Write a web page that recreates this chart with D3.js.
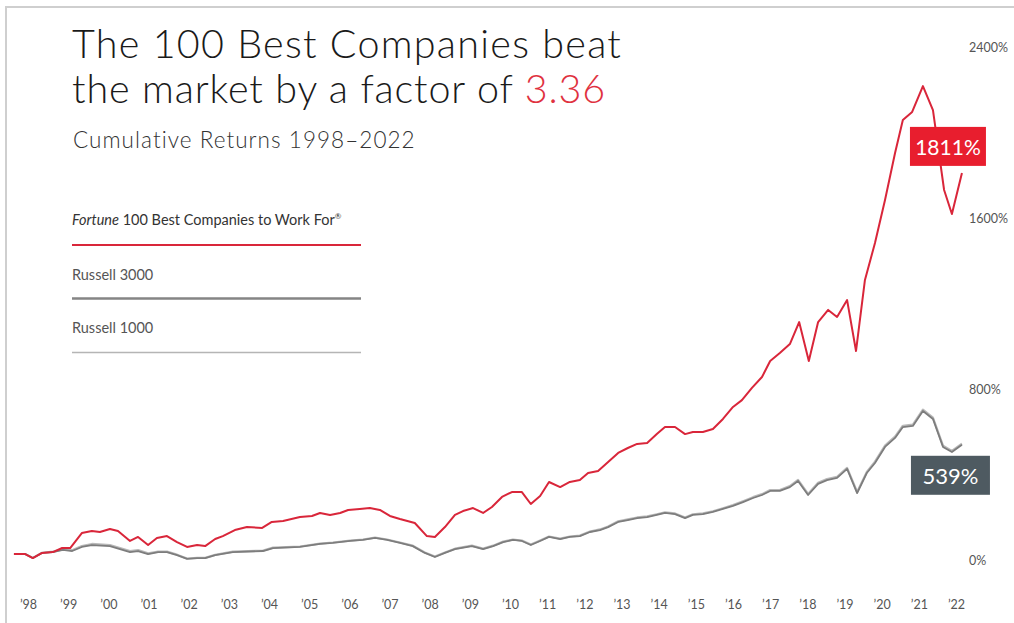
<!DOCTYPE html>
<html><head><meta charset="utf-8">
<script src="https://cdn.jsdelivr.net/npm/d3@7"></script>
<style>
body{margin:0;background:#fff;}
svg{display:block;font-family:Lato,'Open Sans',sans-serif;}
</style>
</head><body>
<svg id="chart" width="1014" height="623"></svg>
<script>
// ---- data ----
const bestYears = [1997.65,1997.93,1998.12,1998.35,1998.62,1998.85,1999.05,1999.34,1999.59,1999.79,
  2000.04,2000.24,2000.54,2000.74,2000.99,2001.21,2001.46,2001.71,2001.96,2002.21,
  2002.41,2002.66,2002.85,2003.15,2003.45,2003.83,2004.07,2004.35,2004.77,2005.07,
  2005.27,2005.52,2005.77,2005.97,2006.26,2006.51,2006.76,2007.01,2007.26,2007.63,
  2007.93,2008.13,2008.38,2008.63,2008.83,2009.08,2009.33,2009.55,2009.80,2010.05,
  2010.32,2010.56,2010.81,2011.05,2011.35,2011.61,2011.88,2012.10,2012.37,2012.64,
  2012.91,2013.17,2013.42,2013.69,2013.95,2014.17,2014.44,2014.71,2014.92,2015.19,
  2015.46,2015.73,2016.00,2016.24,2016.51,2016.78,2017.00,2017.26,2017.53,2017.78,
  2018.04,2018.29,2018.56,2018.80,2019.07,2019.31,2019.55,2019.82,2020.09,2020.36,
  2020.57,2020.82,2021.11,2021.38,2021.68,2021.89,2022.16];
const bestValues = [28,28,9,33,37,56,56,126,136,131,
  145,136,89,108,70,103,112,84,61,70,
  65,98,112,140,154,150,178,182,201,206,
  220,211,220,234,239,243,234,206,192,173,
  112,108,154,211,229,243,220,248,295,318,
  318,262,299,365,341,365,374,407,416,458,
  501,524,543,547,589,622,622,589,599,599,
  613,660,716,748,805,856,931,968,1010,1113,
  931,1113,1170,1137,1216,978,1310,1483,1684,1904,
  2058,2096,2217,2105,1731,1619,1811];

const russellYears = [1997.65,1997.93,1998.12,1998.35,1998.62,1998.87,1999.10,1999.34,1999.59,2000.04,
  2000.54,2000.74,2000.99,2001.24,2001.46,2001.71,2001.96,2002.21,2002.41,2002.66,
  2003.10,2003.85,2004.10,2004.77,2005.27,2005.59,2006.02,2006.34,2006.64,2006.94,
  2007.26,2007.58,2007.88,2008.13,2008.38,2008.63,2009.05,2009.33,2009.58,2009.83,
  2010.08,2010.32,2010.56,2010.81,2011.05,2011.35,2011.61,2011.88,2012.15,2012.42,
  2012.64,2012.91,2013.17,2013.42,2013.69,2013.95,2014.17,2014.44,2014.71,2014.92,
  2015.19,2015.46,2015.73,2016.00,2016.27,2016.54,2016.78,2017.00,2017.26,2017.53,
  2017.75,2018.02,2018.29,2018.53,2018.80,2019.07,2019.34,2019.60,2019.82,2020.09,
  2020.36,2020.57,2020.84,2021.11,2021.38,2021.65,2021.89,2022.16];
const r3000Values = [28,28,9,33,37,47,42,61,70,65,
  37,42,28,37,37,23,5,9,9,23,
  37,42,56,61,75,80,89,94,103,94,
  80,65,33,14,33,51,65,51,65,84,
  94,89,70,89,108,98,108,112,131,140,
  154,178,187,196,201,211,220,215,196,211,
  215,225,239,253,271,290,304,323,323,341,
  370,304,356,374,384,426,313,407,454,529,
  571,622,627,697,660,529,505,539];
const r1000Values = [28,28,10,34,39,50,46,65,75,70,
  42,46,31,39,39,25,7,10,10,24,
  39,44,58,63,77,82,91,96,105,96,
  82,67,35,16,35,53,67,53,67,86,
  96,91,72,91,110,100,110,114,133,143,
  157,181,190,199,204,214,223,218,199,214,
  218,228,242,257,275,294,308,327,327,346,
  375,309,361,379,389,431,318,412,460,535,
  577,628,633,703,666,535,510,544];

const yearTicks = [1998,1999,2000,2001,2002,2003,2004,2005,2006,2007,2008,2009,2010,
  2011,2012,2013,2014,2015,2016,2017,2018,2019,2020,2021,2022];
const yearLabels = ["’98","’99","’00","’01","’02","’03","’04","’05","’06","’07","’08","’09","’10",
  "’11","’12","’13","’14","’15","’16","’17","’18","’19","’20","’21","’22"];
const valueTicks = [0,800,1600,2400];
const valueLabels = ["0%","800%","1600%","2400%"];
const seriesNames = ["Fortune","Russell 3000","Russell 1000"];
const calloutValues = [1811, 539];

// ---- drawing ----
const svg = d3.select("#chart");
const RED = "#d9263a", DARK = "#7d7d7d", LIGHT = "#b9b9b9";

// frame
svg.append("path").attr("d","M6,623V7H1014").attr("fill","none").attr("stroke","#cfcfcf").attr("stroke-width",2);

const x = d3.scaleLinear().domain([1998, 2010, 2022]).range([28, 510, 956]);
const y = d3.scaleLinear().domain([0, 2400]).range([560, 47]);

// y axis labels
const yAxis = svg.append("g").attr("transform","translate(966,0)")
  .call(d3.axisRight(y).tickValues(valueTicks).tickSize(0).tickPadding(3)
    .tickFormat((d,i)=>valueLabels[i]));
yAxis.select(".domain").remove();
yAxis.selectAll("text").attr("font-size",12.5).attr("fill","#555").attr("font-family","Lato,'Open Sans',sans-serif");

// x axis labels
const xAxis = svg.append("g").attr("transform","translate(0,600)")
  .call(d3.axisBottom(x).tickValues(yearTicks).tickSize(0).tickPadding(0)
    .tickFormat((d,i)=>yearLabels[i]));
xAxis.select(".domain").remove();
xAxis.selectAll("text").attr("font-size",12.5).attr("fill","#555").attr("font-family","Lato,'Open Sans',sans-serif");

const line = d3.line().x(d=>x(d[0])).y(d=>y(d[1])).curve(d3.curveLinear);

svg.append("path").datum(d3.zip(russellYears, r1000Values)).attr("d", line)
  .attr("fill","none").attr("stroke",LIGHT).attr("stroke-width",2.2).attr("stroke-linejoin","round");
svg.append("path").datum(d3.zip(russellYears, r3000Values)).attr("d", line)
  .attr("fill","none").attr("stroke",DARK).attr("stroke-width",1.8).attr("stroke-linejoin","round");
svg.append("path").datum(d3.zip(bestYears, bestValues)).attr("d", line)
  .attr("fill","none").attr("stroke",RED).attr("stroke-width",2).attr("stroke-linejoin","round");

// callouts
const endX = x(bestYears[bestYears.length-1]);
const c1y = y(calloutValues[0]);
svg.append("rect").attr("x", endX-52).attr("y", c1y-46).attr("width",76).attr("height",39).attr("fill","#e81e2e");
svg.append("text").attr("x", endX-14).attr("y", c1y-26.5).attr("text-anchor","middle").attr("dominant-baseline","central")
  .attr("font-size",21).attr("fill","#fff").text(calloutValues[0] + "%");
const c2y = y(calloutValues[1]);
svg.append("rect").attr("x", endX-51).attr("y", c2y+11).attr("width",79).attr("height",39).attr("fill","#4e5a61");
svg.append("text").attr("x", endX-11.5).attr("y", c2y+30.5).attr("text-anchor","middle").attr("dominant-baseline","central")
  .attr("font-size",22).attr("fill","#fff").text(calloutValues[1] + "%");

// title: fixed size, widened with letter spacing to the reference width
function spread(sel, target){
  const w = sel.node().getComputedTextLength();
  const n = sel.text().length;
  sel.attr("letter-spacing", ((target - w) / n).toFixed(2));
}
const t1 = svg.append("text").attr("x",72).attr("y",58).attr("font-size",39.5).attr("font-weight",300)
  .attr("fill","#1a1a1a").text("The 100 Best Companies beat");
spread(t1, 550);
const t2 = svg.append("text").attr("x",72).attr("y",103).attr("font-size",39.5).attr("font-weight",300).attr("fill","#1a1a1a");
t2.append("tspan").text("the market by a factor of ");
t2.append("tspan").attr("fill","#e0323f").text("3.36");
spread(t2, 534);
const st = svg.append("text").attr("x",73).attr("y",148).attr("font-size",22.5).attr("font-weight",300)
  .attr("fill","#333").text("Cumulative Returns 1998–2022");
spread(st, 343);

// legend
const leg = svg.append("g");
const l1 = leg.append("text").attr("x",72).attr("y",225).attr("font-size",14.5).attr("fill","#333");
l1.append("tspan").attr("font-style","italic").text(seriesNames[0]);
l1.append("tspan").text(" 100 Best Companies to Work For");
l1.append("tspan").attr("font-size",8).attr("dy",-6).text("®");
leg.append("line").attr("x1",72).attr("x2",361).attr("y1",245).attr("y2",245).attr("stroke",RED).attr("stroke-width",2);
leg.append("text").attr("x",72).attr("y",280).attr("font-size",14.5).attr("fill","#555").text(seriesNames[1]);
leg.append("line").attr("x1",72).attr("x2",361).attr("y1",298.5).attr("y2",298.5).attr("stroke","#858585").attr("stroke-width",2.5);
leg.append("text").attr("x",72).attr("y",333).attr("font-size",14.5).attr("fill","#555").text(seriesNames[2]);
leg.append("line").attr("x1",72).attr("x2",361).attr("y1",352.5).attr("y2",352.5).attr("stroke","#b5b5b5").attr("stroke-width",1.6);
</script>
</body></html>
